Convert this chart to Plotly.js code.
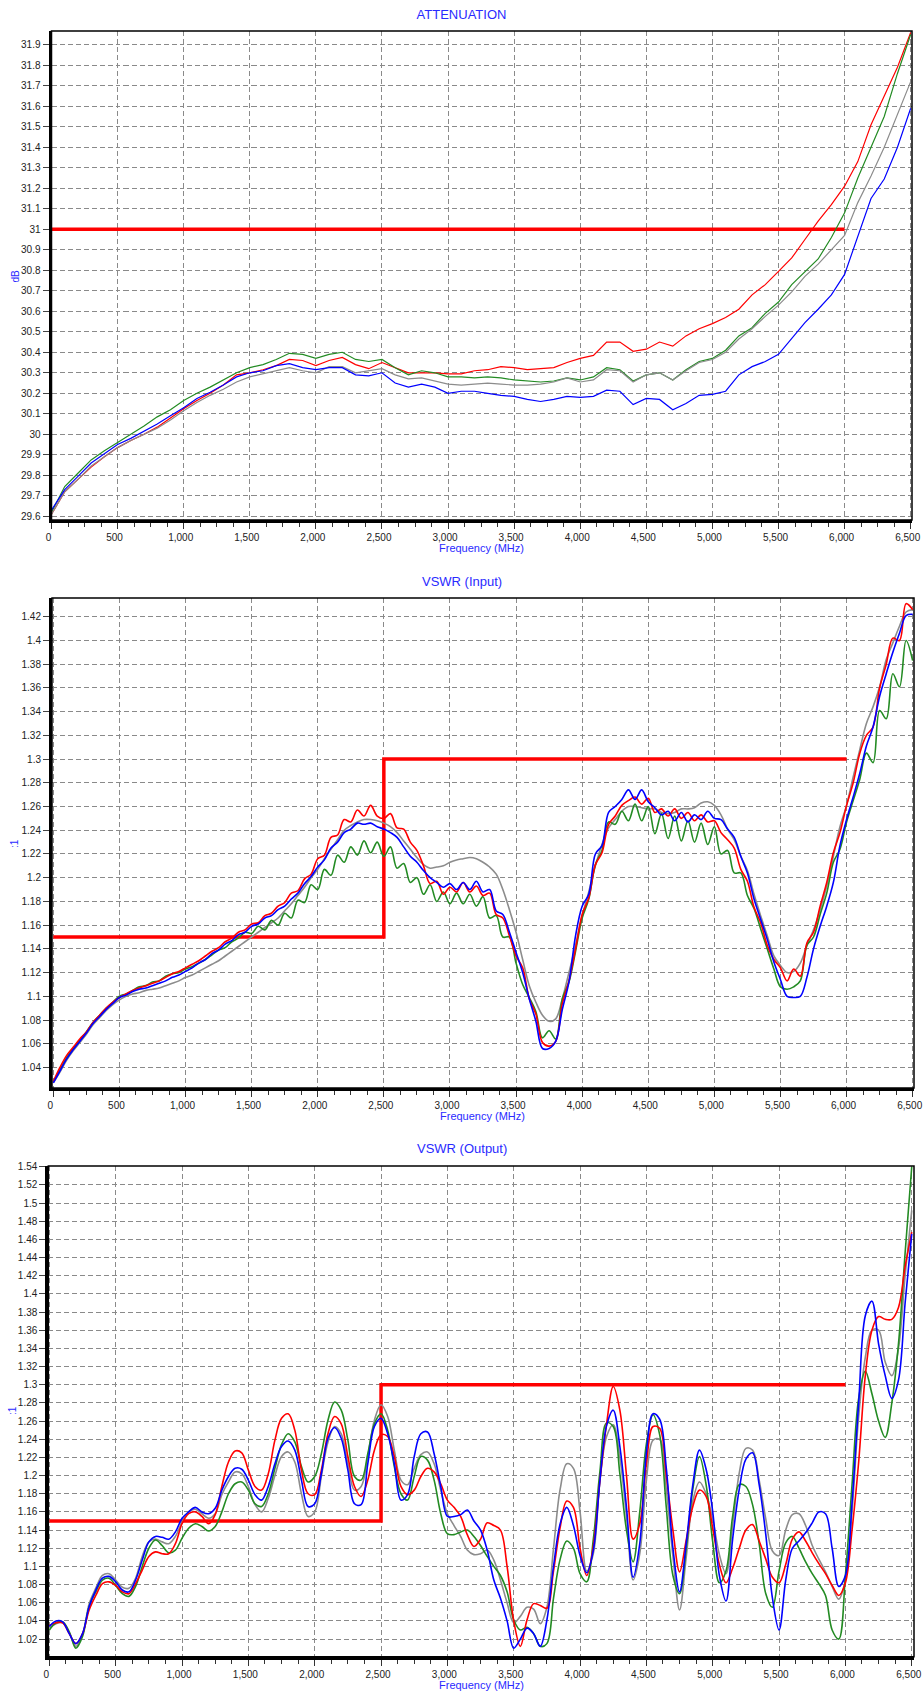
<!DOCTYPE html>
<html>
<head>
<meta charset="utf-8">
<script src="https://cdn.plot.ly/plotly-3.0.1.min.js"></script>
<style>html,body{margin:0;padding:0;background:#fff;}#chart{width:923px;height:1691px;}</style>
</head>
<body>
<div id="chart"></div>
<script>
// ---------- DATA ----------
const freqAtt = [0,100,200,300,400,500,600,700,800,900,1000,1100,1200,1300,1400,1500,1600,1700,1800,1900,2000,2100,2200,2300,2400,2500,2600,2700,2800,2900,3000,3100,3200,3300,3400,3500,3600,3700,3800,3900,4000,4100,4200,4300,4400,4500,4600,4700,4800,4900,5000,5100,5200,5300,5400,5500,5600,5700,5800,5900,6000,6100,6200,6300,6400,6500];

const attRed = [29.61,29.72,29.78,29.84,29.89,29.935,29.97,30.0,30.035,30.08,
30.125,30.165,30.2,30.24,30.29,30.3,30.315,30.335,30.365,30.36,
30.335,30.36,30.375,30.34,30.32,30.35,30.325,30.3,30.3,30.3,
30.295,30.295,30.31,30.315,30.33,30.325,30.315,30.32,30.325,30.35,
30.37,30.385,30.45,30.45,30.405,30.415,30.45,30.43,30.48,30.515,
30.54,30.57,30.61,30.68,30.73,30.795,30.86,30.95,31.04,31.12,
31.21,31.33,31.51,31.65,31.79,31.96];
const attGreen = [29.62,29.745,29.81,29.875,29.92,29.96,30.0,30.04,30.085,30.12,
30.165,30.2,30.23,30.265,30.3,30.325,30.34,30.365,30.395,30.39,
30.37,30.39,30.4,30.365,30.355,30.365,30.325,30.29,30.31,30.3,
30.28,30.28,30.275,30.28,30.275,30.265,30.26,30.255,30.26,30.275,
30.265,30.28,30.325,30.315,30.26,30.29,30.3,30.265,30.315,30.355,
30.37,30.41,30.48,30.52,30.59,30.645,30.73,30.795,30.855,30.96,
31.08,31.25,31.4,31.55,31.76,31.95];
const attGray = [29.61,29.72,29.78,29.845,29.89,29.935,29.97,30.0,30.03,30.07,
30.115,30.155,30.19,30.22,30.255,30.28,30.295,30.31,30.325,30.31,
30.3,30.33,30.33,30.3,30.31,30.32,30.29,30.27,30.275,30.26,
30.245,30.24,30.245,30.25,30.245,30.24,30.24,30.245,30.255,30.275,
30.255,30.265,30.315,30.31,30.255,30.29,30.3,30.265,30.31,30.35,
30.365,30.4,30.465,30.515,30.575,30.63,30.695,30.77,30.83,30.9,
30.97,31.13,31.26,31.4,31.56,31.72];
const attBlue = [29.63,29.73,29.795,29.86,29.905,29.95,29.98,30.015,30.05,30.09,
30.13,30.175,30.205,30.24,30.28,30.3,30.31,30.335,30.345,30.325,
30.315,30.325,30.325,30.29,30.285,30.3,30.25,30.23,30.245,30.23,
30.2,30.21,30.21,30.2,30.19,30.185,30.17,30.16,30.17,30.185,
30.18,30.185,30.215,30.21,30.145,30.175,30.17,30.12,30.15,30.19,
30.195,30.21,30.29,30.33,30.355,30.39,30.465,30.545,30.61,30.68,
30.78,30.96,31.15,31.245,31.4,31.59];

const freqVswr = [0,50,100,150,200,250,300,350,400,450,500,550,600,650,700,750,800,850,900,950,
1000,1050,1100,1150,1200,1250,1300,1350,1400,1450,1500,1550,1600,1650,1700,1750,1800,1850,1900,1950,
2000,2050,2100,2150,2200,2250,2300,2350,2400,2450,2500,2550,2600,2650,2700,2750,2800,2850,2900,2950,
3000,3050,3100,3150,3200,3250,3300,3350,3400,3450,3500,3550,3600,3650,3700,3750,3800,3850,3900,3950,
4000,4050,4100,4150,4200,4250,4300,4350,4400,4450,4500,4550,4600,4650,4700,4750,4800,4850,4900,4950,
5000,5050,5100,5150,5200,5250,5300,5350,5400,5450,5500,5550,5600,5650,5700,5750,5800,5850,5900,5950,
6000,6050,6100,6150,6200,6250,6300,6350,6400,6450,6500];

const inRed = [1.028,1.040,1.050,1.057,1.064,1.070,1.078,1.084,1.090,1.095,
1.099,1.102,1.105,1.107,1.109,1.111,1.113,1.116,1.119,1.121,
1.124,1.127,1.130,1.134,1.138,1.141,1.146,1.149,1.154,1.156,
1.161,1.162,1.168,1.170,1.176,1.179,1.187,1.189,1.199,1.203,
1.216,1.219,1.234,1.236,1.249,1.247,1.257,1.252,1.261,1.252,
1.250,1.254,1.242,1.241,1.230,1.223,1.210,1.195,1.197,1.186,
1.192,1.188,1.196,1.188,1.193,1.185,1.187,1.169,1.166,1.151,
1.134,1.124,1.098,1.085,1.061,1.058,1.062,1.094,1.113,1.140,
1.169,1.183,1.211,1.221,1.245,1.252,1.261,1.265,1.268,1.262,
1.267,1.255,1.258,1.252,1.258,1.250,1.255,1.248,1.253,1.247,
1.248,1.238,1.232,1.225,1.207,1.197,1.175,1.162,1.143,1.131,
1.124,1.113,1.123,1.117,1.145,1.154,1.176,1.196,1.221,1.238,
1.261,1.280,1.305,1.320,1.327,1.360,1.380,1.402,1.400,1.431,
1.426];
const inGreen = [1.028,1.038,1.048,1.056,1.063,1.070,1.078,1.084,1.090,1.095,
1.100,1.102,1.105,1.108,1.109,1.112,1.113,1.117,1.119,1.120,
1.123,1.125,1.128,1.131,1.135,1.139,1.141,1.146,1.149,1.154,
1.153,1.159,1.156,1.164,1.160,1.170,1.166,1.181,1.179,1.194,
1.190,1.207,1.202,1.219,1.213,1.226,1.219,1.231,1.221,1.230,
1.218,1.226,1.208,1.212,1.196,1.200,1.186,1.194,1.180,1.188,
1.178,1.187,1.178,1.186,1.176,1.184,1.166,1.168,1.150,1.150,
1.128,1.110,1.099,1.087,1.065,1.071,1.064,1.098,1.112,1.138,
1.166,1.182,1.211,1.223,1.247,1.245,1.256,1.248,1.262,1.248,
1.260,1.237,1.254,1.233,1.252,1.231,1.248,1.230,1.246,1.228,
1.243,1.220,1.223,1.204,1.204,1.185,1.174,1.157,1.140,1.123,
1.108,1.106,1.108,1.113,1.143,1.150,1.169,1.187,1.213,1.224,
1.247,1.265,1.283,1.305,1.297,1.341,1.334,1.372,1.361,1.400,
1.383];
const inGray = [1.027,1.036,1.046,1.054,1.061,1.068,1.076,1.082,1.088,1.093,
1.097,1.100,1.102,1.103,1.105,1.106,1.107,1.109,1.111,1.113,
1.116,1.118,1.121,1.124,1.127,1.130,1.134,1.138,1.142,1.146,
1.150,1.154,1.158,1.162,1.166,1.172,1.178,1.185,1.192,1.200,
1.207,1.216,1.224,1.232,1.240,1.244,1.247,1.249,1.249,1.248,
1.246,1.243,1.238,1.231,1.224,1.217,1.211,1.208,1.209,1.210,
1.213,1.215,1.216,1.217,1.216,1.213,1.209,1.203,1.190,1.173,
1.154,1.131,1.109,1.095,1.084,1.079,1.081,1.098,1.120,1.143,
1.168,1.188,1.210,1.228,1.242,1.249,1.256,1.260,1.260,1.259,
1.258,1.258,1.255,1.254,1.255,1.258,1.258,1.259,1.263,1.264,
1.261,1.253,1.241,1.232,1.218,1.206,1.186,1.168,1.151,1.134,
1.126,1.120,1.121,1.128,1.143,1.156,1.173,1.193,1.218,1.243,
1.261,1.285,1.308,1.330,1.344,1.361,1.384,1.398,1.412,1.424,
1.426];
const inBlue = [1.027,1.037,1.047,1.055,1.062,1.069,1.077,1.083,1.089,1.094,
1.099,1.101,1.104,1.106,1.107,1.109,1.111,1.113,1.116,1.118,
1.121,1.124,1.128,1.131,1.136,1.139,1.144,1.147,1.152,1.154,
1.159,1.161,1.166,1.168,1.173,1.176,1.182,1.187,1.195,1.201,
1.209,1.215,1.225,1.230,1.238,1.241,1.246,1.245,1.246,1.243,
1.241,1.238,1.234,1.226,1.218,1.213,1.206,1.200,1.196,1.192,
1.195,1.190,1.196,1.190,1.197,1.188,1.190,1.172,1.169,1.154,
1.137,1.120,1.098,1.079,1.056,1.056,1.062,1.089,1.112,1.151,
1.176,1.186,1.220,1.227,1.255,1.260,1.266,1.274,1.266,1.274,
1.264,1.259,1.253,1.256,1.248,1.255,1.247,1.253,1.249,1.256,
1.250,1.249,1.241,1.234,1.218,1.204,1.182,1.165,1.148,1.129,
1.114,1.100,1.099,1.100,1.116,1.140,1.159,1.176,1.196,1.227,
1.249,1.268,1.288,1.311,1.327,1.353,1.372,1.390,1.406,1.421,
1.422];

const outRed = [1.035,1.038,1.038,1.026,1.015,1.026,1.052,1.068,1.081,1.083,
1.079,1.072,1.070,1.081,1.096,1.111,1.116,1.114,1.114,1.125,
1.147,1.158,1.160,1.155,1.147,1.157,1.188,1.215,1.227,1.225,
1.206,1.188,1.184,1.202,1.239,1.263,1.268,1.250,1.206,1.180,
1.179,1.206,1.246,1.265,1.257,1.221,1.188,1.177,1.195,1.228,
1.245,1.243,1.221,1.188,1.179,1.184,1.199,1.208,1.204,1.191,
1.173,1.165,1.155,1.135,1.122,1.130,1.148,1.145,1.140,1.100,
1.040,1.012,1.041,1.059,1.057,1.054,1.095,1.143,1.172,1.165,
1.120,1.090,1.122,1.195,1.257,1.298,1.272,1.200,1.130,1.147,
1.213,1.254,1.252,1.200,1.140,1.094,1.129,1.166,1.184,1.177,
1.142,1.102,1.082,1.098,1.120,1.140,1.146,1.128,1.108,1.088,
1.082,1.102,1.130,1.138,1.128,1.115,1.103,1.092,1.079,1.068,
1.082,1.140,1.215,1.310,1.360,1.375,1.372,1.372,1.385,1.430,
1.468];
const outGreen = [1.030,1.038,1.039,1.028,1.010,1.023,1.056,1.072,1.085,1.087,
1.079,1.070,1.067,1.078,1.100,1.120,1.129,1.123,1.115,1.118,
1.131,1.142,1.147,1.144,1.139,1.144,1.160,1.180,1.191,1.193,
1.184,1.169,1.166,1.180,1.208,1.234,1.246,1.237,1.210,1.193,
1.199,1.224,1.261,1.281,1.272,1.239,1.199,1.195,1.224,1.257,
1.268,1.250,1.210,1.180,1.173,1.199,1.221,1.217,1.195,1.158,
1.136,1.135,1.138,1.140,1.133,1.123,1.111,1.100,1.090,1.072,
1.041,1.030,1.033,1.026,1.012,1.015,1.065,1.108,1.128,1.120,
1.092,1.083,1.130,1.205,1.258,1.254,1.202,1.140,1.105,1.160,
1.235,1.267,1.245,1.165,1.090,1.070,1.120,1.185,1.221,1.190,
1.127,1.082,1.095,1.155,1.190,1.188,1.168,1.125,1.070,1.055,
1.095,1.126,1.133,1.120,1.105,1.092,1.081,1.068,1.030,1.020,
1.090,1.190,1.285,1.315,1.290,1.260,1.242,1.280,1.345,1.445,
1.540];
const outGray = [1.032,1.037,1.038,1.027,1.012,1.025,1.059,1.076,1.090,1.092,
1.085,1.077,1.076,1.087,1.111,1.127,1.130,1.127,1.125,1.133,
1.149,1.160,1.163,1.158,1.153,1.158,1.179,1.193,1.204,1.202,
1.188,1.168,1.160,1.175,1.200,1.221,1.226,1.215,1.180,1.155,
1.160,1.199,1.237,1.254,1.246,1.213,1.184,1.188,1.221,1.261,
1.278,1.265,1.228,1.195,1.190,1.208,1.223,1.226,1.213,1.184,
1.158,1.145,1.133,1.118,1.113,1.114,1.118,1.107,1.085,1.060,
1.038,1.045,1.055,1.053,1.037,1.055,1.120,1.185,1.213,1.208,
1.160,1.095,1.114,1.195,1.243,1.256,1.220,1.155,1.085,1.114,
1.195,1.239,1.240,1.185,1.111,1.052,1.110,1.172,1.193,1.180,
1.152,1.113,1.092,1.145,1.203,1.230,1.228,1.195,1.152,1.117,
1.112,1.140,1.157,1.158,1.145,1.123,1.108,1.094,1.078,1.064,
1.085,1.160,1.265,1.330,1.360,1.360,1.325,1.310,1.340,1.420,
1.492];
const outBlue = [1.034,1.040,1.039,1.026,1.015,1.026,1.056,1.074,1.087,1.089,
1.083,1.074,1.072,1.085,1.107,1.127,1.133,1.132,1.130,1.138,
1.153,1.160,1.165,1.160,1.158,1.164,1.184,1.199,1.208,1.207,
1.195,1.179,1.173,1.188,1.213,1.232,1.238,1.228,1.195,1.166,
1.169,1.202,1.241,1.253,1.241,1.206,1.169,1.168,1.213,1.254,
1.263,1.246,1.213,1.173,1.179,1.221,1.246,1.248,1.224,1.188,
1.155,1.155,1.157,1.162,1.150,1.140,1.118,1.085,1.065,1.040,
1.010,1.020,1.032,1.026,1.012,1.041,1.100,1.147,1.165,1.145,
1.112,1.093,1.118,1.195,1.255,1.272,1.232,1.165,1.088,1.125,
1.225,1.268,1.262,1.208,1.120,1.072,1.125,1.190,1.228,1.207,
1.160,1.090,1.062,1.130,1.185,1.218,1.225,1.190,1.135,1.065,
1.030,1.085,1.120,1.128,1.137,1.148,1.160,1.158,1.120,1.078,
1.090,1.170,1.280,1.376,1.392,1.345,1.310,1.285,1.305,1.390,
1.466];

// spec limit lines
const attLimitX = [0, 6000];
const attLimitY = [31, 31];
const vswrLimitX = [0, 2500, 2500, 6000];
const vswrLimitY = [1.15, 1.15, 1.3, 1.3];

const titles = ['ATTENUATION', 'VSWR (Input)', 'VSWR (Output)'];
const xTitle = 'Frequency (MHz)';
const yTitles = ['dB', ':1', ':1'];

// ---------- STYLE ----------
const W = 923, H = 1691;
const FONT = '"Liberation Sans", Arial, sans-serif';
const BLUE_TXT = '#2a2aff';
const COL = {red:'#ff0000', green:'#238b23', gray:'#8c8c8c', blue:'#0000ff'};
const dx = (a, b) => [a / W, b / W];
const dy = (top, bot) => [1 - bot / H, 1 - top / H];

function xAxis(domain, range, anchor) {
  return {
    domain: domain, range: range, anchor: anchor,
    tick0: 0, dtick: 500, tickformat: ',d',
    ticks: 'outside', ticklen: 6, tickwidth: 1, tickcolor: '#333',
    ticklabeloverflow: 'allow', ticklabelshift: -3,
    minor: {tick0: 0, dtick: 125, ticks: 'outside', ticklen: 4, tickwidth: 1, tickcolor: '#333', showgrid: false},
    showline: true, linecolor: '#000', linewidth: 3,
    showgrid: true, gridcolor: '#8a8a8a', gridwidth: 1, griddash: '5px,3px',
    zeroline: false, fixedrange: true,
    tickfont: {family: FONT, size: 10, color: '#222'}
  };
}
function yAxis(domain, range, dtick, anchor) {
  return {
    domain: domain, range: range, anchor: anchor,
    tick0: 0, dtick: dtick,
    ticks: 'outside', ticklen: 6, tickwidth: 1, tickcolor: '#444',
    ticklabeloverflow: 'allow',
    showline: true, linecolor: '#000', linewidth: 3,
    showgrid: true, gridcolor: '#8a8a8a', gridwidth: 1, griddash: '5px,3px',
    zeroline: false, fixedrange: true,
    tickfont: {family: FONT, size: 10, color: '#222'}
  };
}

function line(x, y, color, width, xa, ya, shape) {
  return {x: x, y: y, type: 'scatter', mode: 'lines', xaxis: xa, yaxis: ya,
          line: {color: color, width: width, shape: shape || 'linear', smoothing: 1},
          hoverinfo: 'skip', showlegend: false};
}

const traces = [
  line(attLimitX, attLimitY, COL.red, 3.5, 'x', 'y'),
  line(freqAtt, attRed, COL.red, 1.2, 'x', 'y'),
  line(freqAtt, attGreen, COL.green, 1.2, 'x', 'y'),
  line(freqAtt, attGray, COL.gray, 1.2, 'x', 'y'),
  line(freqAtt, attBlue, COL.blue, 1.2, 'x', 'y'),

  line(vswrLimitX, vswrLimitY, COL.red, 3.5, 'x2', 'y2'),
  line(freqVswr, inGray, COL.gray, 1.6, 'x2', 'y2', 'spline'),
  line(freqVswr, inGreen, COL.green, 1.6, 'x2', 'y2', 'spline'),
  line(freqVswr, inRed, COL.red, 1.6, 'x2', 'y2', 'spline'),
  line(freqVswr, inBlue, COL.blue, 1.6, 'x2', 'y2', 'spline'),

  line(vswrLimitX, vswrLimitY, COL.red, 3.5, 'x3', 'y3'),
  line(freqVswr, outGray, COL.gray, 1.6, 'x3', 'y3', 'spline'),
  line(freqVswr, outGreen, COL.green, 1.6, 'x3', 'y3', 'spline'),
  line(freqVswr, outRed, COL.red, 1.6, 'x3', 'y3', 'spline'),
  line(freqVswr, outBlue, COL.blue, 1.6, 'x3', 'y3', 'spline')
];

function ann(text, xpx, ypx, size, angle) {
  return {text: text, xref: 'paper', yref: 'paper', x: xpx / W, y: 1 - ypx / H,
          xanchor: 'center', yanchor: 'middle', showarrow: false, textangle: angle || 0,
          font: {family: FONT, size: size, color: BLUE_TXT}};
}
function border(xr, yr) {
  return {type: 'rect', xref: xr + ' domain', yref: yr + ' domain', x0: 0, x1: 1, y0: 0, y1: 1,
          line: {color: '#000', width: 1.5}, layer: 'above'};
}

const layout = {
  width: W, height: H,
  margin: {l: 0, r: 0, t: 0, b: 0, pad: 0},
  paper_bgcolor: '#fff', plot_bgcolor: '#fff',
  showlegend: false, hovermode: false,
  font: {family: FONT, size: 10, color: '#222'},
  title: {text: titles[0], x: 0.5, xanchor: 'center', y: 1 - 14.3 / H, yanchor: 'middle',
          font: {family: FONT, size: 13, color: BLUE_TXT}},
  xaxis: xAxis(dx(51.5, 912), [0, 6510], 'y'),
  yaxis: yAxis(dy(31, 520), [29.582, 31.967], 0.1, 'x'),
  xaxis2: xAxis(dx(52, 914), [-10, 6510], 'y2'),
  yaxis2: yAxis(dy(598, 1088), [1.0227, 1.4358], 0.02, 'x2'),
  xaxis3: xAxis(dx(48.3, 914), [-8, 6517], 'y3'),
  yaxis3: yAxis(dy(1166, 1656.7), [1.0006, 1.5408], 0.02, 'x3'),
  shapes: [border('x', 'y'), border('x2', 'y2'), border('x3', 'y3')],
  annotations: [
    ann(titles[1], 462, 581.7, 13),
    ann(titles[2], 462, 1148, 13),
    ann(xTitle, 481.5, 548, 11),
    ann(xTitle, 482, 1116, 11),
    ann(xTitle, 481, 1685, 11),
    ann(yTitles[0], 15, 275.5, 10, -90),
    ann(yTitles[1], 15, 843, 10, -90),
    ann(yTitles[2], 12, 1411, 10, -90)
  ]
};

Plotly.newPlot('chart', traces, layout, {staticPlot: true, displayModeBar: false, responsive: false});
</script>
</body>
</html>
